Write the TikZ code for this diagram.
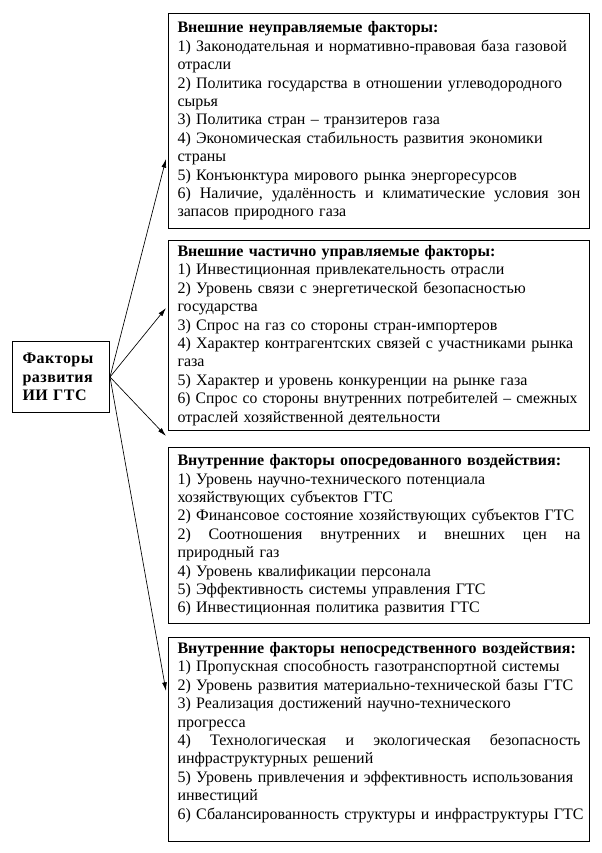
\documentclass[tikz,border=0pt]{standalone}
\usepackage{fontspec}
\usepackage{graphicx}
\setmainfont{Liberation Serif}
\usetikzlibrary{arrows.meta}
\newcommand{\jl}[1]{\leavevmode\hbox to 302.25pt{#1}}
\newcommand{\fitl}[1]{\leavevmode\resizebox{300pt}{\height}{#1}}
\begin{document}
\begin{tikzpicture}[x=0.75pt,y=-0.75pt,
  factor/.style={draw, line width=0.75pt, anchor=north west,
    minimum width=315.75pt, inner xsep=6.75pt, inner ysep=0pt,
    text width=302.25pt, align=left,
    font=\fontsize{12}{13.8}\selectfont},
  mainbox/.style={draw, line width=0.75pt, anchor=north west,
    minimum width=72.75pt, minimum height=53.25pt, inner xsep=7.5pt,
    text width=57.75pt, align=left,
    font=\bfseries\fontsize{12}{13.8}\selectfont\addfontfeature{LetterSpace=3}},
  arr/.style={line width=0.5pt, -{Latex[length=6.5pt,width=3.6pt]}}]
\path[use as bounding box, fill=white] (0,0) rectangle (601,853);

\node[mainbox] (src) at (12,341) {Факторы\\развития\\ИИ ГТС};

\node[factor, minimum height=161.25pt] (b1) at (168,13) {%
\textbf{Внешние неуправляемые факторы:}\\
1) Законодательная и нормативно-правовая база газовой\\
отрасли\\
2) Политика государства в отношении углеводородного\\
сырья\\
3) Политика стран – транзитеров газа\\
4) Экономическая стабильность развития экономики\\
страны\\
5) Конъюнктура мирового рынка энергоресурсов\\
\jl{6)\hfill Наличие,\hfill удалённость\hfill и\hfill климатические\hfill условия\hfill зон}\\
запасов природного газа};

\node[factor, minimum height=142.5pt] (b2) at (168,240) {%
\textbf{Внешние частично управляемые факторы:}\\
1) Инвестиционная привлекательность отрасли\\
2) Уровень связи с энергетической безопасностью\\
государства\\
3) Спрос на газ со стороны стран-импортеров\\
4) Характер контрагентских связей с участниками рынка\\
газа\\
5) Характер и уровень конкуренции на рынке газа\\
\fitl{6) Спрос со стороны внутренних потребителей – смежных}\\
отраслей хозяйственной деятельности};

\node[factor, minimum height=132pt] (b3) at (168,447) {%
\textbf{Внутренние факторы опосредованного воздействия:}\\
1) Уровень научно-технического потенциала\\
хозяйствующих субъектов ГТС\\
2) Финансовое состояние хозяйствующих субъектов ГТС\\
\jl{2)\hfill Соотношения\hfill внутренних\hfill и\hfill внешних\hfill цен\hfill на}\\
природный газ\\
4) Уровень квалификации персонала\\
5) Эффективность системы управления ГТС\\
6) Инвестиционная политика развития ГТС};

\node[factor, minimum height=153pt] (b4) at (168,637) {%
\textbf{Внутренние факторы непосредственного воздействия:}\\
1) Пропускная способность газотранспортной системы\\
2) Уровень развития материально-технической базы ГТС\\
3) Реализация достижений научно-технического\\
прогресса\\
\jl{4)\hfill Технологическая\hfill и\hfill экологическая\hfill безопасность}\\
инфраструктурных решений\\
5) Уровень привлечения и эффективность использования\\
инвестиций\\
\jl{6) Сбалансированность структуры и инфраструктуры ГТС}\rule[-13pt]{0pt}{13pt}};

\coordinate (t1) at (166,159);
\coordinate (t2) at (166,308);
\coordinate (t3) at (166,436);
\coordinate (t4) at (166,691);
\draw[arr] (src.east) -- (t1);
\draw[arr] (src.east) -- (t2);
\draw[arr] (src.east) -- (t3);
\draw[arr] (src.east) -- (t4);
\end{tikzpicture}
\end{document}
